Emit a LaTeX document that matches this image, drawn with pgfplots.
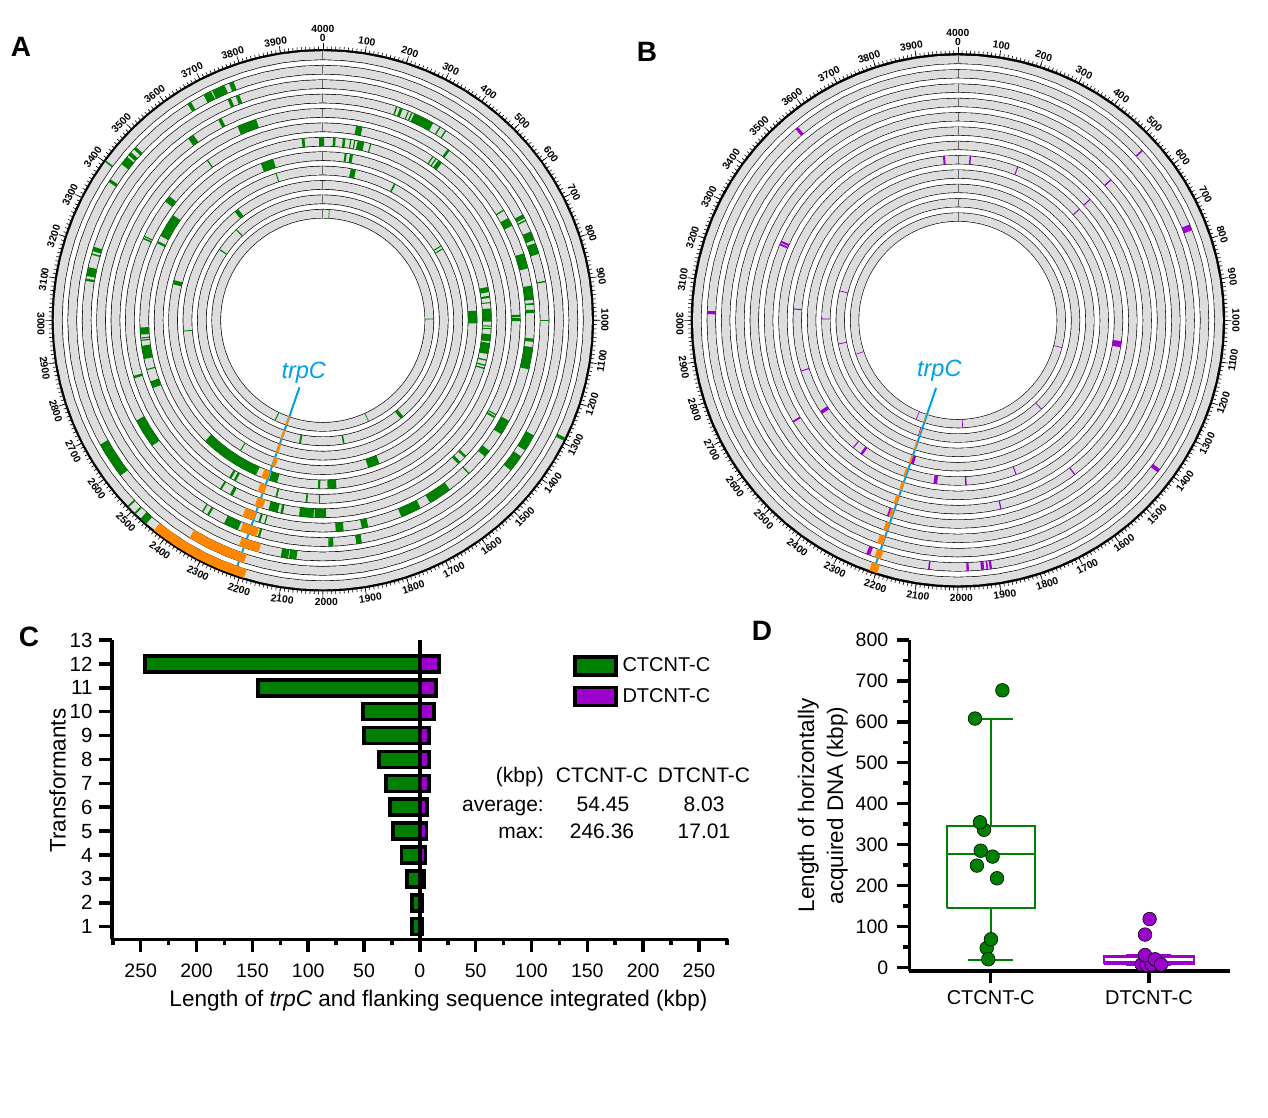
\documentclass[border=0pt]{standalone}
\usepackage{pgfplots}
\usepackage{pgfplotstable}
\usepackage{fontspec}
\pgfplotsset{compat=1.18}
\usepgfplotslibrary{polar}
\usetikzlibrary{calc}
\setmainfont{Liberation Sans}

\definecolor{cgreen}{RGB}{0,128,0}
\definecolor{cpurple}{RGB}{155,0,204}
\definecolor{corange}{RGB}{255,136,0}
\definecolor{cband}{RGB}{221,221,221}
\definecolor{cblue}{RGB}{0,160,230}

% positions used for the ring outlines
\pgfplotstableread[row sep=\\]{p\\
0\\50\\100\\150\\200\\250\\300\\350\\400\\450\\500\\550\\600\\650\\700\\750\\800\\850\\900\\950\\
1000\\1050\\1100\\1150\\1200\\1250\\1300\\1350\\1400\\1450\\1500\\1550\\1600\\1650\\1700\\1750\\1800\\1850\\1900\\1950\\
2000\\2050\\2100\\2150\\2200\\2250\\2300\\2350\\2400\\2450\\2500\\2550\\2600\\2650\\2700\\2750\\2800\\2850\\2900\\2950\\
3000\\3050\\3100\\3150\\3200\\3250\\3300\\3350\\3400\\3450\\3500\\3550\\3600\\3650\\3700\\3750\\3800\\3850\\3900\\3950\\4000\\
}\ringpos

% one gray band with its black edges and the small mark at 0
\newcommand{\ring}[1]{%
  \addplot[draw=black,line width=\rWo] table[x expr=90-0.09*\thisrow{p},y index=0,y expr=\rO-\rS*(#1-1)]{\ringpos};
  \addplot[draw=cband,line width=\rWi] table[x expr=90-0.09*\thisrow{p},y index=0,y expr=\rO-\rS*(#1-1)]{\ringpos};
  \addplot[draw=black!60,line width=0.8pt] table[row sep=\\,x expr=90,y index=0,y expr=\rO-\rS*(#1-1)+\thisrow{d}]{d\\-4.2\\4.2\\};
}
% one block on ring #2, positions in kbp
\newcommand{\seg}[3]{%
  \addplot[draw=#1,line width=\rWb] table[row sep=\\,x expr=90-0.09*\thisrow{p},y index=0,y expr=\rO-\rS*(#2-1)]{p\\#3\\};
}
\newcommand{\gn}[2]{\seg{cgreen}{#1}{#2}}
\newcommand{\pu}[2]{\seg{cpurple}{#1}{#2}}
\newcommand{\og}[2]{\seg{corange}{#1}{#2}}

\pgfplotsset{
  genome/.style={
    scale only axis,clip=false,grid=none,
    xmin=-270,xmax=90,ymin=0,
    xtick=\empty,ytick=\empty,
    x axis line style={line width=2.4pt},
    y axis line style={draw=none},
    anchor=center,
  },
  every axis/.append style={
    tick label style={font=\fontsize{19.5}{22}\selectfont},
    label style={font=\fontsize{22.5}{29}\selectfont},
    /pgf/number format/assume math mode=true,
  },
  chart/.style={
    scale only axis,clip=false,anchor=south west,
    axis x line*=bottom,axis y line*=left,
    tick align=outside,minor tick length=6pt,
    tick style={black,line width=3.5pt},
    axis line style={line width=3.5pt},
  },
  boxlegend/.style={draw=black,line width=3.5pt,
    legend image code/.code={\draw[##1](0pt,-9pt)rectangle(41pt,9pt);}},
}
% scale around a ring: ticks every 10 kbp and the kbp labels
\newcommand{\poslabels}[4]{% centre x, centre y, label radius, outer radius
  \begin{scope}[shift={(#1,#2)},font=\fontsize{10.3}{12}\selectfont\bfseries]
  \foreach \p in {0,10,...,3990}{%
    \pgfmathsetmacro{\a}{90-\p*0.09}%
    \draw[line width=0.6pt] (\a:#4) -- (\a:#4+4);
  }
  \foreach \p in {0,100,...,3900}{%
    \pgfmathsetmacro{\a}{90-\p*0.09}%
    \draw[line width=0.6pt] (\a:#4) -- (\a:#4+7.5);
  }
  \foreach \p in {100,200,...,3900}{%
    \pgfmathsetmacro{\a}{\p*0.09}%
    \pgfmathsetmacro{\t}{\a<=90?-\a:(\a<=270?180-\a:360-\a)}%
    \pgfmathsetmacro{\s}{\p<=1000?0:(\p<=3000?3.5:-3)}%
    \node[rotate=\t,inner sep=0pt] at ($({90-\a}:#3)+(\t:\s)$) {\p};
  }
  \node[inner sep=0pt] at (0,#3) {0};
  \node[inner sep=0pt] at (0,#3+9) {4000};
  \end{scope}
}

\begin{document}
\begin{tikzpicture}[x=1pt,y=1pt]
\path (0,0) rectangle (1268,1118);

% ---------- A
\def\rO{265}\def\rS{14.4}\def\rWo{9.5pt}\def\rWi{8.2pt}\def\rWb{9.1pt}
\begin{polaraxis}[genome,at={(322.8pt,797.7pt)},width=540pt,height=540pt,ymax=270]
\pgfplotsforeachungrouped \k in {1,...,12}{\ring{\k}}
\addplot[draw=cblue,line width=2pt] table[row sep=\\,x expr=90-0.09*2213,y=r]{r s\\71 0\\260 0\\};
% ring 1
\gn{1}{3400\\3404}\gn{1}{1287\\1295}\gn{1}{2455\\2473}\gn{1}{2489\\2493}\gn{1}{2512\\2516}
% ring 2
\gn{2}{3760\\3772}\gn{2}{3714\\3748}\gn{2}{3690\\3711}\gn{2}{3644\\3654}\gn{2}{3468\\3476}\gn{2}{3448\\3458}\gn{2}{3420\\3443}\gn{2}{3365\\3373}
\gn{2}{2583\\2630\\2676}
% ring 3
\gn{3}{3764\\3774}\gn{3}{3741\\3750}\gn{3}{3186\\3198}\gn{3}{3176\\3180}\gn{3}{3118\\3142}\gn{3}{3105\\3111}
\gn{3}{1318\\1341\\1364}\gn{3}{1383\\1406\\1429}\gn{3}{2092\\2112}\gn{3}{2070\\2090}
% ring 4
\gn{4}{3694\\3704}\gn{4}{3594\\3612}\gn{4}{210\\214}\gn{4}{222\\230}\gn{4}{246\\249}\gn{4}{256\\260}\gn{4}{265\\295\\325}\gn{4}{345\\349}\gn{4}{364\\368}
\gn{4}{690\\702}\gn{4}{707\\711}\gn{4}{743\\769}\gn{4}{778\\810}\gn{4}{888\\892}\gn{4}{998\\1002}\gn{4}{1970\\1980}\gn{4}{1889\\1905}
\gn{4}{2245\\2266\\2288}\gn{4}{2180\\2186}\gn{4}{2355\\2359}\gn{4}{2336\\2342}\gn{4}{1980\\1984}
% ring 5
\gn{5}{3736\\3766\\3796}\gn{5}{401\\409}\gn{5}{650\\654}\gn{5}{679\\705}\gn{5}{795\\818\\842}\gn{5}{895\\917\\938}\gn{5}{948\\953}\gn{5}{968\\978}
\gn{5}{1055\\1065}\gn{5}{1081\\1115\\1149}\gn{5}{1315\\1338\\1362}\gn{5}{1423\\1445}\gn{5}{1513\\1517}\gn{5}{1590\\1626\\1662}\gn{5}{1694\\1726\\1758}
\gn{5}{1937\\1961}\gn{5}{1862\\1882}\gn{5}{2596\\2641\\2686}\gn{5}{2191\\2197}\gn{5}{2175\\2179}
% ring 6
\gn{6}{3600\\3604}\gn{6}{3411\\3433}\gn{6}{3270\\3275}\gn{6}{3278\\3282}\gn{6}{108\\129}\gn{6}{375\\379}\gn{6}{387\\391}\gn{6}{398\\412}
\gn{6}{982\\990}\gn{6}{993\\1003}\gn{6}{1316\\1320}\gn{6}{1324\\1330}\gn{6}{1482\\1490}\gn{6}{1509\\1519}\gn{6}{2030\\2053\\2077}\gn{6}{1989\\2027}
\gn{6}{2810\\2818}\gn{6}{2147\\2178}\gn{6}{2130\\2138}\gn{6}{2343\\2349}\gn{6}{2302\\2312}
% ring 7
\gn{7}{3926\\3936}\gn{7}{3987\\4005}\gn{7}{3305\\3347\\3390}\gn{7}{3277\\3285}\gn{7}{36\\45}\gn{7}{70\\79}\gn{7}{96\\100}\gn{7}{110\\114}\gn{7}{122\\146}\gn{7}{167\\171}
\gn{7}{2950\\2975}\gn{7}{2928\\2932}\gn{7}{2936\\2940}\gn{7}{2864\\2887\\2911}\gn{7}{2824\\2828}\gn{7}{2758\\2783}\gn{7}{2161\\2167}\gn{7}{2054\\2060}\gn{7}{2010\\2014}\gn{7}{2334\\2342}\gn{7}{2316\\2324}
% ring 8
\gn{8}{3760\\3785\\3810}\gn{8}{83\\91}\gn{8}{103\\115}\gn{8}{873\\893}\gn{8}{907\\915}\gn{8}{931\\935}\gn{8}{955\\980\\1005}\gn{8}{1020\\1024}\gn{8}{1030\\1034}\gn{8}{1053\\1080}\gn{8}{1086\\1129}\gn{8}{1150\\1155}\gn{8}{1170\\1175}\gn{8}{1182\\1187}
\gn{8}{1948\\1975}\gn{8}{2259\\2320\\2380\\2440\\2492}\gn{8}{2175\\2207}\gn{8}{2010\\2018}\gn{8}{1974\\1982}
% ring 9
\gn{9}{3802\\3806}\gn{9}{3150\\3168}\gn{9}{116\\138}\gn{9}{306\\313}\gn{9}{960\\986\\1013}\gn{9}{1760\\1785\\1810}\gn{9}{2357\\2361}
% ring 10
\gn{10}{3566\\3586}\gn{10}{640\\645}\gn{10}{655\\660}\gn{10}{2949\\2953}
% ring 11
\gn{11}{3512\\3518}\gn{11}{3380\\3386}\gn{11}{1556\\1574}\gn{11}{1889\\1897}\gn{11}{2112\\2122}
% ring 12
\gn{12}{35\\39}\gn{12}{990\\994}\gn{12}{1727\\1731}\gn{12}{2280\\2286}
% trpC and flanking sequence
\og{1}{2189\\2250\\2310\\2370\\2431}\og{2}{2200\\2250\\2300\\2350}\og{3}{2172\\2199\\2227}\og{4}{2190\\2214\\2238}\og{5}{2212\\2248}\og{6}{2197\\2224}
\og{7}{2208\\2232}\og{8}{2213\\2238}\og{9}{2200\\2216}\og{10}{2206\\2218}\og{11}{2209\\2219}\og{12}{2209\\2219}
\end{polaraxis}
\poslabels{322.8}{797.7}{282}{270}
\node[font=\fontsize{23.5}{26}\selectfont\itshape,text=cblue] at (303.7,745) {trpC};

% ---------- B
\def\rO{261}\def\rS{14.33}\def\rWo{9.1pt}\def\rWi{7.9pt}\def\rWb{8.7pt}
\begin{polaraxis}[genome,at={(957.9pt,797.6pt)},width=532pt,height=532pt,ymax=266]
\pgfplotsforeachungrouped \k in {1,...,12}{\ring{\k}}
\addplot[draw=cblue,line width=2pt] table[row sep=\\,x expr=90-0.09*\thisrow{p},y=r]{p r\\2199 71\\2207 262\\};
\pu{2}{3552\\3560}\pu{2}{3016\\3024}\pu{2}{524\\528}\pu{2}{750\\766}\pu{2}{1404\\1414}\pu{2}{2228\\2238}\pu{2}{2072\\2076}\pu{2}{1972\\1978}\pu{2}{1933\\1941}\pu{2}{1923\\1927}\pu{2}{1913\\1919}
\pu{5}{525\\529}\pu{5}{2216\\2222}
\pu{6}{3254\\3260}\pu{6}{3263\\3270}\pu{6}{2646\\2652}\pu{6}{1585\\1589}\pu{6}{1855\\1859}
\pu{7}{526\\530}
\pu{8}{3942\\3950}\pu{8}{3042\\3046}\pu{8}{45\\51}\pu{8}{235\\239}\pu{8}{526\\530}\pu{8}{2799\\2803}\pu{8}{2616\\2630}\pu{8}{2436\\2440}\pu{8}{2393\\2403}\pu{8}{2081\\2095}\pu{8}{1966\\1972}\pu{8}{1080\\1104}\pu{8}{1768\\1772}
\pu{9}{2190\\2202}
\pu{10}{3005\\3009}
\pu{11}{3154\\3158}\pu{11}{2874\\2878}\pu{11}{2210\\2213}\pu{11}{1517\\1521}
\pu{12}{2794\\2798}\pu{12}{2252\\2256}\pu{12}{1970\\1974}\pu{12}{1161\\1165}
\og{1}{2197\\2217}\og{2}{2199\\2216}\og{3}{2206\\2222}\og{4}{2206\\2218}\og{5}{2206\\2216}\og{6}{2204\\2216}\og{7}{2203\\2213}\og{8}{2207\\2215}\og{9}{2203\\2211}\og{10}{2204\\2210}\og{11}{2205\\2210}\og{12}{2204\\2208}
\end{polaraxis}
\poslabels{957.9}{797.6}{278}{266}
\node[font=\fontsize{23.5}{26}\selectfont\itshape,text=cblue] at (939.3,747.3) {trpC};

% ---------- C
\begin{axis}[chart,at={(112pt,178.7pt)},width=616pt,height=299.3pt,
  xmin=-275.7,xmax=276,ymin=0.47,ymax=13,
  major tick length=13pt,
  xtick={-250,-200,-150,-100,-50,0,50,100,150,200,250},
  xticklabels={250,200,150,100,50,0,50,100,150,200,250},
  minor xtick={-275,-225,-175,-125,-75,-25,25,75,125,175,225,275},
  xticklabel style={yshift=-8pt},
  yticklabel style={font=\fontsize{20.5}{22}\selectfont,xshift=-3pt},
  ytick={1,2,...,13},
  xlabel={Length of \textit{trpC} and flanking sequence integrated (kbp)},
  xlabel style={at={(ticklabel cs:0.53)}},xlabel shift=6pt,
  ylabel={Transformants},
  ylabel style={at={(ticklabel cs:0.53)}},ylabel shift=-3pt,
  legend style={at={(axis cs:137,12.38)},anchor=north west,draw=none,fill=none,row sep=9pt,
    font=\fontsize{20}{24}\selectfont,inner sep=0pt},
  legend cell align=left,
]
\addlegendimage{boxlegend,fill=cgreen}
\addlegendentry{\hspace{3pt}CTCNT-C}
\addlegendimage{boxlegend,fill=cpurple}
\addlegendentry{\hspace{3pt}DTCNT-C}
\addplot[xbar,bar width=16pt,bar shift=0pt,draw=black,fill=cgreen,line width=3.5pt,forget plot] coordinates {
(-6.9,1) (-6.9,2) (-11.3,3) (-16.4,4) (-23.9,5) (-26.9,6) (-30.4,7) (-36.7,8) (-50,9) (-51,10) (-145,11) (-246.36,12)};
\addplot[xbar,bar width=16pt,bar shift=0pt,draw=black,fill=cpurple,line width=3.5pt,forget plot] coordinates {
(1.8,1) (1.8,2) (3.6,3) (5,4) (6,5) (6.6,6) (8,7) (8,8) (8,9) (12.5,10) (14.3,11) (17.01,12)};
\addplot[black,line width=3.5pt,forget plot] coordinates {(0,0.47) (0,13)};
\end{axis}
\begin{scope}[font=\fontsize{21}{24}\selectfont,inner sep=0pt]
\node[anchor=base east] at (544,335) {(kbp)};
\node[anchor=base] at (602,335) {CTCNT-C};
\node[anchor=base] at (704,335) {DTCNT-C};
\node[anchor=base east] at (544,306.3) {average:};
\node[anchor=base] at (603,306.3) {54.45};
\node[anchor=base] at (704,306.3) {8.03};
\node[anchor=base east] at (544,279.7) {max:};
\node[anchor=base] at (602,279.7) {246.36};
\node[anchor=base] at (704,279.7) {17.01};
\end{scope}

% ---------- D
\begin{axis}[chart,at={(909.3pt,147pt)},width=320.7pt,height=331pt,
  xmin=0.486,xmax=2.512,ymin=-9,ymax=800,
  major tick length=12.5pt,
  xtick={1,2},xticklabels={CTCNT-C,DTCNT-C},
  xticklabel style={font=\fontsize{20}{24}\selectfont,yshift=-4pt},
  yticklabel style={xshift=-5pt},
  ytick={0,100,...,800},minor ytick={50,150,...,750},
  ylabel style={align=center},ylabel shift=1pt,
  ylabel={Length of horizontally\\acquired DNA (kbp)},
]
% CTCNT-C box
\addplot[cgreen,line width=2pt] coordinates {(1,608) (1,345)};
\addplot[cgreen,line width=2pt] coordinates {(1,145) (1,18)};
\addplot[cgreen,line width=2pt] coordinates {(0.858,608) (1.142,608)};
\addplot[cgreen,line width=2pt] coordinates {(0.858,18) (1.142,18)};
\addplot[cgreen,line width=2pt] coordinates {(0.721,145) (1.279,145) (1.279,345) (0.721,345) (0.721,145)};
\addplot[cgreen,line width=2pt] coordinates {(0.721,278) (1.279,278)};
% DTCNT-C box
\addplot[cpurple,line width=2.5pt] coordinates {(1.858,29) (2.142,29)};
\addplot[cpurple,line width=2.5pt] coordinates {(1.858,7) (2.142,7)};
\addplot[cpurple,line width=2.5pt] coordinates {(1.716,9) (2.284,9) (2.284,26) (1.716,26) (1.716,9)};
\addplot[cpurple,line width=2.5pt] coordinates {(1.716,13) (2.284,13)};
% points
\addplot[only marks,mark=*,mark size=6.8pt,mark options={fill=cgreen,draw=black,line width=0.6pt}] coordinates {
(1.074,677) (0.901,608) (0.958,336) (0.932,354.5) (0.937,285) (1.012,270.6) (0.913,248.6) (1.04,217.6) (0.975,47) (1.002,68.5) (0.985,19.6)};
\addplot[only marks,mark=*,mark size=6.8pt,mark options={fill=cpurple,draw=black,line width=0.6pt}] coordinates {
(2.004,118) (1.975,80) (1.954,7) (1.985,6) (2.017,7) (1.975,30) (2.038,19.6) (2.076,7)};
\end{axis}

% panel letters
\begin{scope}[font=\fontsize{28}{30}\selectfont\bfseries]
\node at (21,1071) {A};
\node at (647,1066) {B};
\node at (29,481) {C};
\node at (762,487) {D};
\end{scope}
\end{tikzpicture}
\end{document}
